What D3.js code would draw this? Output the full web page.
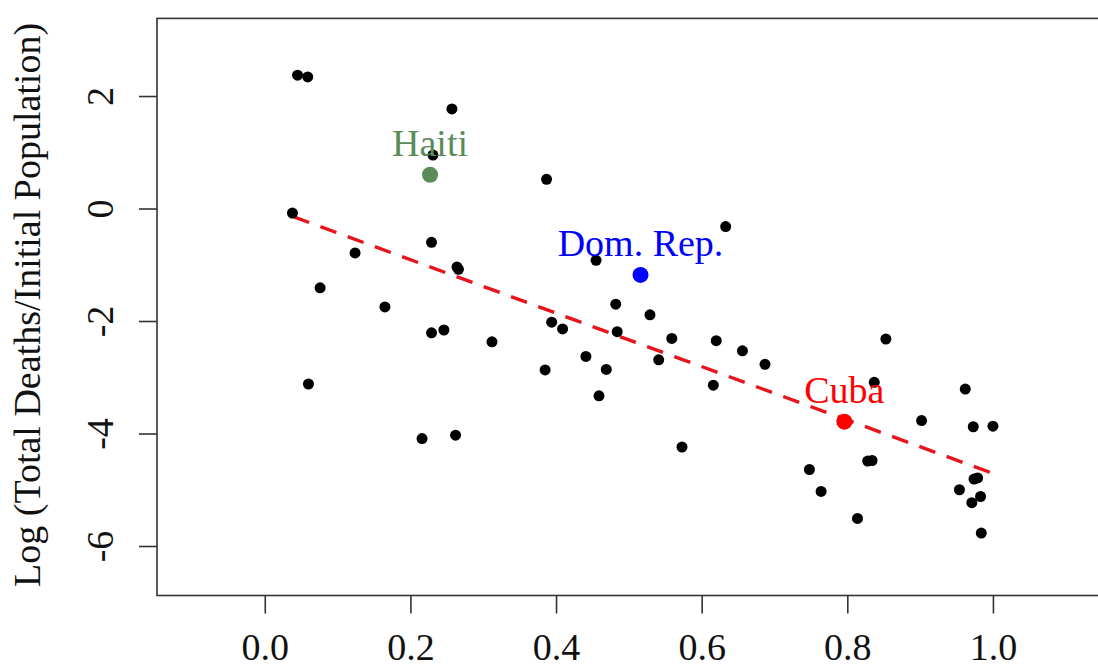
<!DOCTYPE html>
<html>
<head>
<meta charset="utf-8">
<script src="https://cdn.jsdelivr.net/npm/d3@7"></script>
<style>
  html, body { margin: 0; padding: 0; background: #fff; }
  svg { display: block; }
  text { font-family: "Liberation Serif", "Times New Roman", serif; }
</style>
</head>
<body>
<script>
// ---- data ----
const pointX = [0.045, 0.059, 0.257, 0.231, 0.387, 0.038, 0.229, 0.124, 0.264, 0.266,
                0.076, 0.165, 0.229, 0.246, 0.312, 0.060, 0.216, 0.262,
                0.633, 0.455, 0.482, 0.529, 0.394, 0.409, 0.484, 0.559, 0.620, 0.656,
                0.687, 0.441, 0.469, 0.541, 0.385, 0.616, 0.459, 0.573,
                0.853, 0.837, 0.962, 0.902, 0.973, 1.000, 0.748, 0.828, 0.834, 0.764,
                0.814, 0.974, 0.979, 0.954, 0.983, 0.971, 0.984];
const pointY = [2.37, 2.34, 1.77, 0.95, 0.52, -0.08, -0.60, -0.79, -1.04, -1.08,
                -1.41, -1.75, -2.21, -2.16, -2.37, -3.12, -4.09, -4.03,
                -0.32, -0.92, -1.70, -1.89, -2.02, -2.14, -2.19, -2.31, -2.35, -2.53,
                -2.77, -2.63, -2.86, -2.69, -2.87, -3.14, -3.33, -4.24,
                -2.32, -3.09, -3.21, -3.77, -3.88, -3.87, -4.64, -4.49, -4.48, -5.03,
                -5.51, -4.81, -4.79, -5.00, -5.12, -5.23, -5.77];

const labelNames = ["Haiti", "Dom. Rep.", "Cuba"];
const labelX = [0.227, 0.516, 0.796];
const labelY = [0.60, -1.18, -3.79];
const labelColors = ["#5a8b59", "#0000ff", "#ff0000"];

const fitX = [0.039, 1.0];
const fitY = [-0.145, -4.71];

const xTicks = [0.0, 0.2, 0.4, 0.6, 0.8, 1.0];
const yTicks = [-6, -4, -2, 0, 2];
const yTitle = "Log (Total Deaths/Initial Population)";

// ---- layout ----
const W = 1098, H = 666;
const mLeft = 157, mRight = 1100.7, mTop = 18.4, mBottom = 595.5;
const FONT = 38;

const svg = d3.select("body").append("svg")
  .attr("width", W).attr("height", H);
svg.append("rect").attr("width", W).attr("height", H).attr("fill", "#fff");

const x = d3.scaleLinear().domain([-0.148, 1.148]).range([mLeft, mRight]);
const y = d3.scaleLinear().domain([-6.88, 3.38]).range([mBottom, mTop]);

// x axis
const gx = svg.append("g").attr("transform", `translate(0,${mBottom})`)
  .call(d3.axisBottom(x).tickValues(xTicks).tickFormat(d3.format(".1f"))
        .tickSize(18).tickSizeOuter(0));
gx.select(".domain").remove();
gx.selectAll(".tick line").attr("stroke", "#333").attr("stroke-width", 1.6);
gx.selectAll(".tick text")
  .attr("y", 64.5).attr("dy", 0)
  .attr("font-size", FONT).attr("fill", "#111")
  .attr("font-family", "Liberation Serif");

// y axis
const gy = svg.append("g").attr("transform", `translate(${mLeft},0)`)
  .call(d3.axisLeft(y).tickValues(yTicks).tickFormat(d => String(d))
        .tickSize(18).tickSizeOuter(0));
gy.select(".domain").remove();
gy.selectAll(".tick line").attr("stroke", "#333").attr("stroke-width", 1.6);
gy.selectAll(".tick text")
  .attr("x", 0).attr("y", -44).attr("dy", 0)
  .attr("transform", "rotate(-90)")
  .attr("text-anchor", "middle")
  .attr("font-size", FONT).attr("fill", "#111")
  .attr("font-family", "Liberation Serif");

// y title
svg.append("text")
  .attr("transform", `translate(40,${(mTop + mBottom) / 2 - 2}) rotate(-90)`)
  .attr("text-anchor", "middle")
  .attr("font-size", FONT).attr("fill", "#111")
  .text(yTitle);

// plot box
svg.append("rect")
  .attr("x", mLeft).attr("y", mTop)
  .attr("width", mRight - mLeft).attr("height", mBottom - mTop)
  .attr("fill", "none").attr("stroke", "#333").attr("stroke-width", 1.6);

// regression line
svg.append("line")
  .attr("x1", x(fitX[0])).attr("y1", y(fitY[0]))
  .attr("x2", x(fitX[1])).attr("y2", y(fitY[1]))
  .attr("stroke", "#e8141b").attr("stroke-width", 3.4)
  .attr("stroke-dasharray", "17,12");

// black points
const pts = pointX.map((v, i) => ({ x: v, y: pointY[i] }));
svg.append("g").selectAll("circle").data(pts).join("circle")
  .attr("cx", d => x(d.x)).attr("cy", d => y(d.y))
  .attr("r", 5.5).attr("fill", "#000");

// highlighted countries
const lab = labelNames.map((n, i) => ({ n, x: labelX[i], y: labelY[i], c: labelColors[i] }));
svg.append("g").selectAll("circle").data(lab).join("circle")
  .attr("cx", d => x(d.x)).attr("cy", d => y(d.y))
  .attr("r", 8).attr("fill", d => d.c);
svg.append("g").selectAll("text").data(lab).join("text")
  .attr("x", d => x(d.x)).attr("y", d => y(d.y) - 18.5)
  .attr("text-anchor", "middle")
  .attr("font-size", FONT).attr("fill", d => d.c)
  .text(d => d.n);
</script>
</body>
</html>
